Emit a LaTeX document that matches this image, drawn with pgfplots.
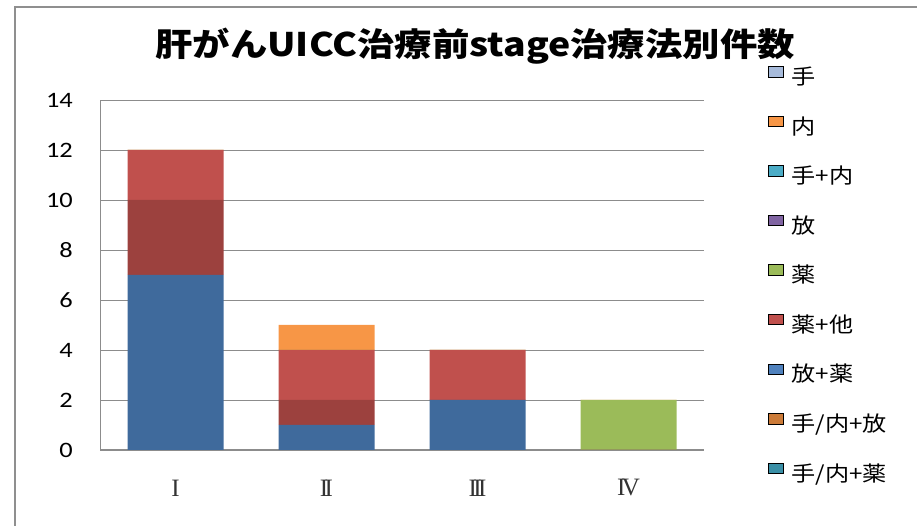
\documentclass[border=0pt]{standalone}
\usepackage{pgfplots}
\pgfplotsset{compat=1.18}
\usepackage{fontspec}
\setmainfont{Carlito}
\newfontfamily\jp[FakeStretch=1.15]{Noto Sans CJK JP}
\newfontfamily\tickf[FakeStretch=1.2]{Carlito}
\newfontfamily\rom{Liberation Serif}
\newcommand{\RI}{I}
\newcommand{\RII}{I\kern-3.6pt I}
\newcommand{\RIII}{I\kern-3.6pt I\kern-3.6pt I}
\newcommand{\RIV}{I\kern-3.4pt V}
\definecolor{barblue}{HTML}{3F6A9C}
\definecolor{bardred}{HTML}{9C413E}
\definecolor{barred}{HTML}{C0504D}
\definecolor{barorange}{HTML}{F79646}
\definecolor{bargreen}{HTML}{9BBB59}
\definecolor{lgA}{HTML}{A7BBDB}
\definecolor{lgB}{HTML}{F79646}
\definecolor{lgC}{HTML}{4BACC6}
\definecolor{lgD}{HTML}{8064A2}
\definecolor{lgE}{HTML}{9BBB59}
\definecolor{lgF}{HTML}{C0504D}
\definecolor{lgG}{HTML}{4F81BD}
\definecolor{lgH}{HTML}{CC7B38}
\definecolor{lgI}{HTML}{3A8FA6}
\definecolor{gridc}{HTML}{8C8C8C}
\definecolor{borderc}{HTML}{8F8F8F}
\definecolor{romc}{HTML}{333333}
\begin{document}
\begin{tikzpicture}
\useasboundingbox (0pt,0pt) rectangle (917pt,526pt);
\draw[line width=1.6pt, color=borderc] (15pt,-5pt) -- (15pt,519pt) -- (930pt,519pt);
\node[font=\jp\bfseries\fontsize{32.5}{32.5}\selectfont, inner sep=0pt] at (475pt,480pt) {肝がんUICC治療前stage治療法別件数};
\begin{axis}[
  at={(100pt,76pt)}, anchor=south west,
  width=604pt, height=350pt, scale only axis,
  stack plots=y,
  ymin=0, ymax=14, ytick={0,2,...,14},
  xmin=-0.5, xmax=3.5, xtick={0,1,2,3},
  xticklabels={\RI,\RII,\RIII,\RIV},
  axis x line*=bottom, axis y line*=left,
  axis line style={draw=gridc, line width=1pt, -},
  major tick length=0pt,
  ymajorgrids, grid style={draw=gridc, line width=0.9pt},
  /pgf/number format/assume math mode=true,
  yticklabel style={font=\tickf\fontsize{22}{22}\selectfont, inner sep=0pt, anchor=east, xshift=-27pt},
  xticklabel style={font=\rom\fontsize{25}{25}\selectfont, text=romc, inner sep=0pt, anchor=center, yshift=-38pt},
  legend image code/.code={\fill[#1] (0pt,2.75pt) rectangle (15pt,13.25pt);},
  legend cell align=left,
  legend style={at={(1.106,1.097)}, anchor=north west, draw=none, fill=none, inner sep=0pt,
    font=\jp\fontsize{21}{21}\selectfont, row sep=26.1pt, column sep=8pt,
    nodes={inner sep=0pt, text height=15pt, text depth=5pt}},
]
\addplot[ybar, bar width=96pt, bar shift=0pt, fill=barblue, draw=none, forget plot]
  coordinates {(0,7) (1,1) (2,2) (3,0)};
\addplot[ybar, bar width=96pt, bar shift=0pt, fill=bardred, draw=none, forget plot]
  coordinates {(0,3) (1,1) (2,0) (3,0)};
\addplot[ybar, bar width=96pt, bar shift=0pt, fill=barred, draw=none, forget plot]
  coordinates {(0,2) (1,2) (2,2) (3,0)};
\addplot[ybar, bar width=96pt, bar shift=0pt, fill=bargreen, draw=none, forget plot]
  coordinates {(0,0) (1,0) (2,0) (3,2)};
\addplot[ybar, bar width=96pt, bar shift=0pt, fill=barorange, draw=none, forget plot]
  coordinates {(0,0) (1,1) (2,0) (3,0)};
\addlegendimage{fill=lgA}\addlegendentry{手}
\addlegendimage{fill=lgB}\addlegendentry{内}
\addlegendimage{fill=lgC}\addlegendentry{手+内}
\addlegendimage{fill=lgD}\addlegendentry{放}
\addlegendimage{fill=lgE}\addlegendentry{薬}
\addlegendimage{fill=lgF}\addlegendentry{薬+他}
\addlegendimage{fill=lgG}\addlegendentry{放+薬}
\addlegendimage{fill=lgH}\addlegendentry{手/内+放}
\addlegendimage{fill=lgI}\addlegendentry{手/内+薬}
\end{axis}
\end{tikzpicture}
\end{document}
